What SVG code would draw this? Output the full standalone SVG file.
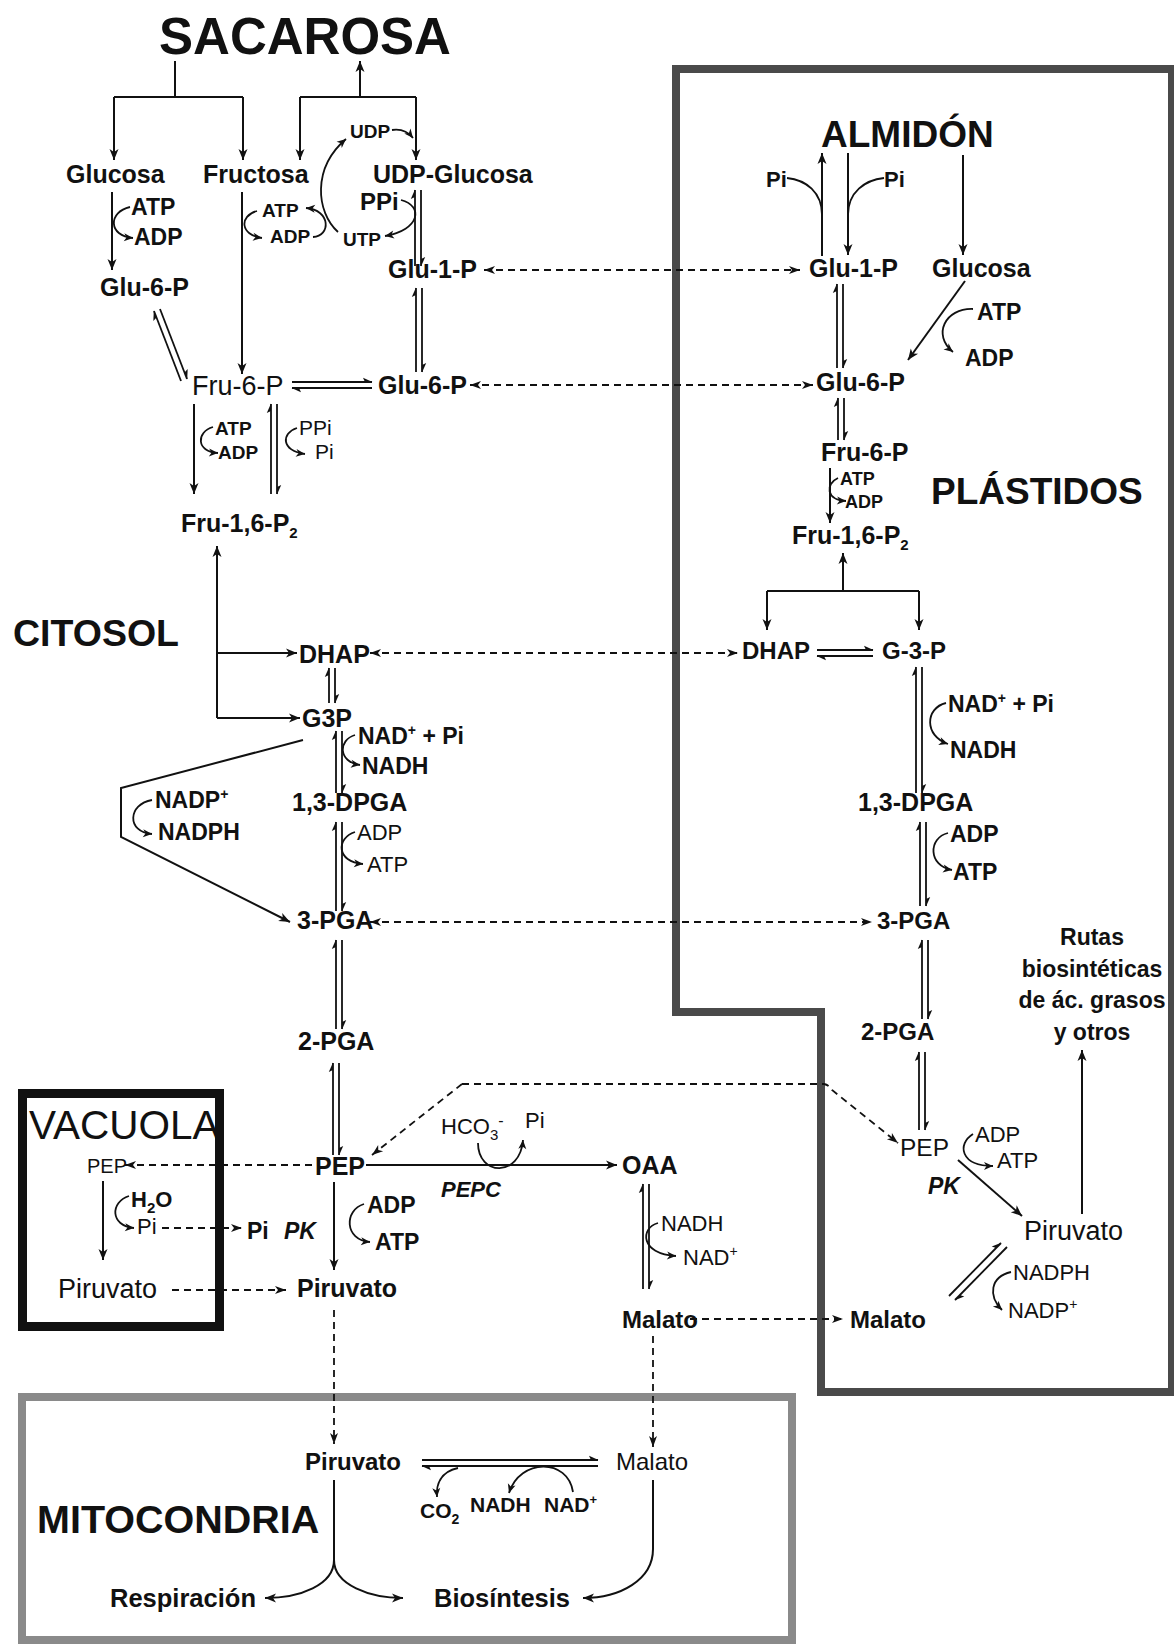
<svg xmlns="http://www.w3.org/2000/svg" width="1174" height="1646" viewBox="0 0 1174 1646">
<style>
text{font-family:"Liberation Sans",Arial,Helvetica,sans-serif;fill:#111}
.b{font-weight:bold}
.r{font-weight:normal}
.i{font-weight:bold;font-style:italic}
.L{font-size:25px}
.M{font-size:23px}
.S{font-size:19px}
.ln{fill:none;stroke:#111;stroke-width:2}
.eq{fill:none;stroke:#111;stroke-width:1.8}
.cv{fill:none;stroke:#111;stroke-width:1.8}
.ds{fill:none;stroke:#111;stroke-width:1.8;stroke-dasharray:7 5}
.arw{marker-end:url(#ah)}
.sma{marker-end:url(#sa)}
.hpn{marker-end:url(#hp)}
.dsa{marker-end:url(#dh)}
.dsb{marker-start:url(#dh);marker-end:url(#dh)}
</style>
<defs>
<marker id="ah" viewBox="-12 -6 14 12" refX="0" refY="0" markerWidth="14" markerHeight="12" markerUnits="userSpaceOnUse" orient="auto-start-reverse"><path d="M0,0 L-11,-4.5 L-8,0 L-11,4.5 Z" fill="#111"/></marker>
<marker id="sa" viewBox="-12 -6 14 12" refX="0" refY="0" markerWidth="14" markerHeight="12" markerUnits="userSpaceOnUse" orient="auto-start-reverse"><path d="M0,0 L-9,-4 L-6.5,0 L-9,4 Z" fill="#111"/></marker>
<marker id="hp" viewBox="-12 -6 14 12" refX="0" refY="0" markerWidth="14" markerHeight="12" markerUnits="userSpaceOnUse" orient="auto"><path d="M0.5,0 L-9,-4.2 L-7,0 Z" fill="#111"/></marker>
<marker id="dh" viewBox="-12 -6 14 12" refX="0" refY="0" markerWidth="14" markerHeight="12" markerUnits="userSpaceOnUse" orient="auto-start-reverse"><path d="M0,0 L-11,-4 L-8,0 L-11,4 Z" fill="#111"/></marker>
</defs>
<rect width="1174" height="1646" fill="#fff"/>

<g id="compartments">
<path id="plastido-borde" d="M676,69 H1172 V1392 H821 V1012 H676 Z" fill="none" stroke="#4a4a4a" stroke-width="8"/>
<rect id="mitocondria-borde" x="22" y="1397" width="770" height="243" fill="none" stroke="#8a8a8a" stroke-width="8"/>
<rect id="vacuola-borde" x="22.5" y="1093.5" width="197" height="233" fill="none" stroke="#111" stroke-width="9"/>
</g>

<g id="connectors">
<!-- sacarosa -->
<path class="ln" d="M175,61 V97 M114,97 H243"/>
<path class="ln arw" d="M114,97 V160"/>
<path class="ln arw" d="M243,97 V160"/>
<path class="ln" d="M300,97 H416"/>
<path class="ln arw" d="M360,97 V61"/>
<path class="ln arw" d="M300,97 V160"/>
<path class="ln arw" d="M416,97 V160"/>
<!-- glucosa -> glu-6-p -->
<path class="ln arw" d="M112,192 V270"/>
<path class="cv sma" d="M130,207 C108,212 108,236 133,238"/>
<!-- fructosa -->
<path class="ln arw" d="M242,192 V374"/>
<path class="cv sma" d="M257,211 C239,216 240,235 262,238"/>
<path class="cv sma" d="M313,237 C331,236 331,210 306,208"/>
<path class="cv sma" d="M338,232 C316,212 312,168 346,139"/>
<path class="cv sma" d="M392,130 Q405,128 413,138"/>
<path class="cv sma" d="M401,200 C424,206 420,230 385,236"/>
<!-- UDP-Glucosa <-> Glu-1-P -->
<path class="eq hpn" d="M415,266 V190"/>
<path class="eq hpn" d="M421,190 V266"/>
<!-- Glu-1-P <-> Glu-6-P -->
<path class="eq hpn" d="M416,372 V288"/>
<path class="eq hpn" d="M422,288 V372"/>
<!-- Glu-6-P(left) <-> Fru-6-P -->
<path class="eq hpn" d="M181,381 L154,311"/>
<path class="eq hpn" d="M160,309 L187,379"/>
<!-- Fru-6-P <-> Glu-6-P -->
<path class="eq hpn" d="M292,382 H372"/>
<path class="eq hpn" d="M372,388 H292"/>
<!-- Fru-6-P -> Fru-1,6-P2 -->
<path class="ln arw" d="M194,404 V494"/>
<path class="cv sma" d="M213,427 C196,432 196,452 218,453"/>
<path class="eq hpn" d="M271,494 V404"/>
<path class="eq hpn" d="M277,404 V494"/>
<path class="cv sma" d="M297,428 C281,433 281,451 305,454"/>
<!-- aldolasa -->
<path class="ln arw" d="M217,718 V546"/>
<path class="ln arw" d="M217,653 H297"/>
<path class="ln arw" d="M217,718 H300"/>
<!-- triosas -->
<path class="eq hpn" d="M329,703 V668"/>
<path class="eq hpn" d="M335,668 V703"/>
<path class="eq hpn" d="M336,793 V731"/>
<path class="eq hpn" d="M342,731 V793"/>
<path class="cv sma" d="M355,735 C338,740 338,762 360,765"/>
<path class="ln arw" d="M303,740 L121,788 V837 L290,922"/>
<path class="cv sma" d="M152,800 C128,804 126,832 152,834"/>
<path class="eq hpn" d="M336,911 V822"/>
<path class="eq hpn" d="M342,822 V911"/>
<path class="cv sma" d="M355,832 C336,838 336,862 363,864"/>
<path class="eq hpn" d="M336,1029 V940"/>
<path class="eq hpn" d="M342,940 V1029"/>
<path class="eq hpn" d="M333,1155 V1063"/>
<path class="eq hpn" d="M339,1063 V1155"/>
<!-- PEP -->
<path class="ln arw" d="M366,1165 H617"/>
<path class="cv sma" d="M478,1143 C478,1176 520,1178 523,1140"/>
<path class="ds dsa" d="M462,1084 L372,1155"/>
<path class="ds dsa" d="M462,1084 H824 Q829,1085 832,1090 L898,1143"/>
<path class="ds dsa" d="M312,1165 H125"/>
<path class="ln arw" d="M334,1182 V1270"/>
<path class="cv sma" d="M364,1204 C344,1210 344,1240 370,1242"/>
<!-- vacuola -->
<path class="ln arw" d="M103,1181 V1260"/>
<path class="cv sma" d="M129,1196 C110,1202 110,1226 134,1228"/>
<path class="ds dsa" d="M162,1228 H242"/>
<path class="ds dsa" d="M172,1290 H286"/>
<!-- OAA/Malato -->
<path class="eq hpn" d="M643,1289 V1184"/>
<path class="eq hpn" d="M649,1184 V1289"/>
<path class="cv sma" d="M658,1223 C640,1228 640,1254 676,1256"/>
<path class="ds dsa" d="M690,1319 H843"/>
<path class="ds dsa" d="M334,1310 V1444"/>
<path class="ds dsa" d="M653,1336 V1447"/>
<!-- dashed transporters -->
<path class="ds dsb" d="M484,270 H800"/>
<path class="ds dsb" d="M470,385 H813"/>
<path class="ds dsb" d="M370,653 H738"/>
<path class="ds dsb" d="M370,922 H872"/>
<!-- plastid -->
<path class="ln arw" d="M822,256 V153"/>
<path class="ln arw" d="M848,153 V255"/>
<path class="cv" d="M787,178 C806,180 822,192 822,215"/>
<path class="cv" d="M884,178 C865,180 848,192 848,215"/>
<path class="ln arw" d="M963,155 V255"/>
<path class="eq hpn" d="M837,368 V284"/>
<path class="eq hpn" d="M843,284 V368"/>
<path class="ln arw" d="M965,281 L908,360"/>
<path class="cv sma" d="M973,309 C945,308 932,335 953,352"/>
<path class="eq hpn" d="M838,440 V398"/>
<path class="eq hpn" d="M844,398 V440"/>
<path class="ln arw" d="M830,468 V523"/>
<path class="cv sma" d="M838,478 C825,484 826,500 846,501"/>
<path class="ln arw" d="M843,591 V553"/>
<path class="ln" d="M767,591 H919"/>
<path class="ln arw" d="M767,591 V630"/>
<path class="ln arw" d="M919,591 V630"/>
<path class="eq hpn" d="M817,650 H873"/>
<path class="eq hpn" d="M873,656 H817"/>
<path class="eq hpn" d="M916,793 V667"/>
<path class="eq hpn" d="M922,667 V793"/>
<path class="cv sma" d="M946,703 C925,708 924,736 948,744"/>
<path class="eq hpn" d="M920,906 V822"/>
<path class="eq hpn" d="M926,822 V906"/>
<path class="cv sma" d="M948,833 C928,838 928,866 952,870"/>
<path class="eq hpn" d="M922,1019 V940"/>
<path class="eq hpn" d="M928,940 V1019"/>
<path class="eq hpn" d="M919,1130 V1052"/>
<path class="eq hpn" d="M925,1052 V1130"/>
<path class="ln arw" d="M958,1160 L1022,1216"/>
<path class="cv sma" d="M973,1134 C957,1144 960,1166 993,1166"/>
<path class="ln arw" d="M1082,1214 V1050"/>
<path class="eq hpn" d="M949,1296 L1001,1243"/>
<path class="eq hpn" d="M1007,1247 L955,1300"/>
<path class="cv sma" d="M1011,1272 C990,1277 988,1296 1002,1310"/>
<!-- mitocondria -->
<path class="eq hpn" d="M422,1460 H598"/>
<path class="eq hpn" d="M598,1466 H422"/>
<path class="cv sma" d="M458,1468 C440,1472 436,1485 437,1497"/>
<path class="cv sma" d="M573,1492 C568,1458 520,1458 509,1493"/>
<path class="ln" d="M334,1480 V1560"/>
<path class="ln arw" d="M334,1560 C334,1585 300,1598 265,1598"/>
<path class="ln arw" d="M334,1560 C334,1585 370,1598 403,1598"/>
<path class="ln arw" d="M653,1480 V1549 C653,1580 620,1598 583,1598"/>
</g>

<g id="labels">
<g id="n-sacarosa"><text class="b" x="305" y="54" font-size="51" text-anchor="middle">SACAROSA</text></g>
<g id="n-glucosa"><text class="b L" x="66" y="183">Glucosa</text></g>
<g id="n-fructosa"><text class="b L" x="203" y="183">Fructosa</text></g>
<g id="n-udpglucosa"><text class="b L" x="373" y="183">UDP-Glucosa</text></g>
<g id="c-hexoquinasa"><text class="b M" x="131" y="215">ATP</text><text class="b M" x="134" y="245">ADP</text></g>
<g id="c-fructoquinasa"><text class="b S" x="262" y="217">ATP</text><text class="b S" x="270" y="243">ADP</text></g>
<g id="c-udp"><text class="b S" x="350" y="138">UDP</text><text class="b S" x="343" y="246">UTP</text><text class="b" font-size="24" x="360" y="210">PPi</text></g>
<g id="n-glu6p-a"><text class="b L" x="100" y="296">Glu-6-P</text></g>
<g id="n-glu1p-c"><text class="b L" x="388" y="278">Glu-1-P</text></g>
<g id="n-glu6p-c"><text class="b L" x="378" y="394">Glu-6-P</text></g>
<g id="n-fru6p-c"><text class="r" font-size="27" x="192" y="395">Fru-6-P</text></g>
<g id="c-pfk"><text class="b S" x="215" y="435">ATP</text><text class="b S" x="218" y="459">ADP</text></g>
<g id="c-pfp"><text class="r" font-size="21" x="299" y="435">PPi</text><text class="r" font-size="21" x="315" y="459">Pi</text></g>
<g id="n-fbp-c"><text class="b L" x="181" y="532">Fru-1,6-P<tspan font-size="15" dy="6">2</tspan></text></g>
<g id="t-citosol"><text class="b" font-size="37.5" x="13" y="646">CITOSOL</text></g>
<g id="n-dhap-c"><text class="b L" x="299" y="663">DHAP</text></g>
<g id="n-g3p-c"><text class="b L" x="302" y="727">G3P</text></g>
<g id="c-gapdh-c"><text class="b M" x="358" y="744">NAD<tspan font-size="14" dy="-9">+</tspan><tspan dy="9"> + Pi</tspan></text><text class="b M" x="362" y="774">NADH</text></g>
<g id="c-nadp"><text class="b M" x="155" y="808">NADP<tspan font-size="14" dy="-9">+</tspan></text><text class="b M" x="158" y="840">NADPH</text></g>
<g id="n-dpga-c"><text class="b L" x="292" y="811">1,3-DPGA</text></g>
<g id="c-pgk-c"><text class="r" font-size="22" x="357" y="840">ADP</text><text class="r" font-size="22" x="367" y="872">ATP</text></g>
<g id="n-3pga-c"><text class="b L" x="297" y="929">3-PGA</text></g>
<g id="n-2pga-c"><text class="b L" x="298" y="1050">2-PGA</text></g>
<g id="n-pep-c"><text class="b L" x="315" y="1175">PEP</text></g>
<g id="c-pepc"><text class="r" font-size="22" x="441" y="1134">HCO<tspan font-size="15" dy="6">3</tspan><tspan font-size="16" dy="-14">-</tspan></text><text class="r" font-size="22" x="525" y="1128">Pi</text><text class="i" font-size="22" x="441" y="1197">PEPC</text></g>
<g id="n-oaa"><text class="b L" x="622" y="1174">OAA</text></g>
<g id="c-mdh-c"><text class="r" font-size="22" x="661" y="1231">NADH</text><text class="r" font-size="22" x="683" y="1265">NAD<tspan font-size="14" dy="-9">+</tspan></text></g>
<g id="n-malato-c"><text class="b" font-size="24" x="622" y="1328">Malato</text></g>
<g id="c-pk-c"><text class="i M" x="284" y="1239">PK</text><text class="b M" x="367" y="1213">ADP</text><text class="b M" x="375" y="1250">ATP</text></g>
<g id="n-pi-c"><text class="b M" x="247" y="1239">Pi</text></g>
<g id="n-piruvato-c"><text class="b L" x="297" y="1297">Piruvato</text></g>

<g id="n-vacuola"><text class="r" font-size="40.5" x="29" y="1139">VACUOLA</text>
<text class="r" font-size="20" x="87" y="1173">PEP</text>
<text class="b" font-size="22" x="131" y="1207">H<tspan font-size="15" dy="6">2</tspan><tspan dy="-6">O</tspan></text>
<text class="r" font-size="22" x="137" y="1234">Pi</text>
<text class="r" font-size="27" x="58" y="1298">Piruvato</text></g>

<g id="n-plastido">
<text class="b" font-size="37" x="821" y="147">ALMIDÓN</text>
<text class="b" font-size="22" x="766" y="187">Pi</text>
<text class="b" font-size="22" x="884" y="187">Pi</text>
<text class="b L" x="809" y="277">Glu-1-P</text>
<text class="b L" x="932" y="277">Glucosa</text>
<text class="b M" x="977" y="320">ATP</text>
<text class="b M" x="965" y="366">ADP</text>
<text class="b L" x="816" y="391">Glu-6-P</text>
<text class="b L" x="821" y="461">Fru-6-P</text>
<text class="b" font-size="18" x="840" y="485">ATP</text>
<text class="b" font-size="18" x="845" y="508">ADP</text>
<text class="b" font-size="37" x="931" y="504">PLÁSTIDOS</text>
<text class="b L" x="792" y="544">Fru-1,6-P<tspan font-size="15" dy="6">2</tspan></text>
<text class="b" font-size="24" x="742" y="659">DHAP</text>
<text class="b" font-size="24" x="882" y="659">G-3-P</text>
<text class="b M" x="948" y="712">NAD<tspan font-size="14" dy="-9">+</tspan><tspan dy="9"> + Pi</tspan></text>
<text class="b M" x="950" y="758">NADH</text>
<text class="b L" x="858" y="811">1,3-DPGA</text>
<text class="b M" x="950" y="842">ADP</text>
<text class="b M" x="953" y="880">ATP</text>
<text class="b" font-size="24" x="877" y="929">3-PGA</text>
<text class="b" font-size="24" x="861" y="1040">2-PGA</text>
<text class="b M" x="1092" y="945" text-anchor="middle">Rutas</text>
<text class="b M" x="1092" y="977" text-anchor="middle">biosintéticas</text>
<text class="b M" x="1092" y="1008" text-anchor="middle">de ác. grasos</text>
<text class="b M" x="1092" y="1040" text-anchor="middle">y otros</text>
<text class="r" font-size="24.5" x="900" y="1156">PEP</text>
<text class="r" font-size="22" x="975" y="1142">ADP</text>
<text class="r" font-size="22" x="997" y="1168">ATP</text>
<text class="i M" x="928" y="1194">PK</text>
<text class="r" font-size="27" x="1024" y="1240">Piruvato</text>
<text class="r" font-size="22" x="1013" y="1280">NADPH</text>
<text class="r" font-size="22" x="1008" y="1318">NADP<tspan font-size="14" dy="-9">+</tspan></text>
<text class="b" font-size="24" x="850" y="1328">Malato</text>
</g>

<g id="n-mitocondria">
<text class="b" font-size="39.5" x="37" y="1533">MITOCONDRIA</text>
<text class="b" font-size="24" x="305" y="1470">Piruvato</text>
<text class="r" font-size="24" x="616" y="1470">Malato</text>
<text class="b" font-size="21" x="420" y="1518">CO<tspan font-size="14" dy="6">2</tspan></text>
<text class="b" font-size="21" x="470" y="1512">NADH</text>
<text class="b" font-size="21" x="544" y="1512">NAD<tspan font-size="13" dy="-8">+</tspan></text>
<text class="b" font-size="25.5" x="110" y="1607">Respiración</text>
<text class="b" font-size="25.5" x="434" y="1607">Biosíntesis</text>
</g>
</g>
</svg>
